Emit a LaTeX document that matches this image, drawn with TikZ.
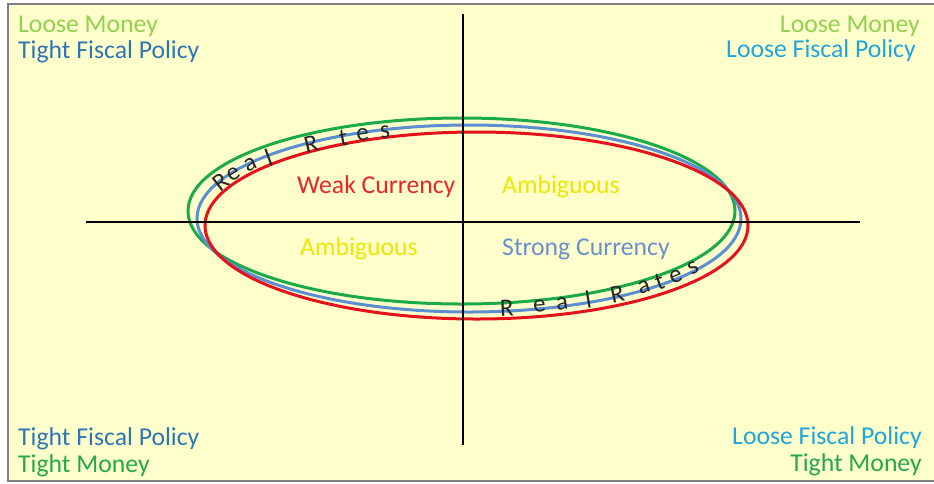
\documentclass[tikz,border=0pt]{standalone}
\usepackage{fontspec}
\setmainfont{Carlito}
\usepackage{xcolor}
\usepackage{tikz}
\usetikzlibrary{positioning}

\definecolor{paper}{HTML}{FFFFCC}
\definecolor{moneygreen}{HTML}{92D050}
\definecolor{tightblue}{HTML}{2E75B6}
\definecolor{looseblue}{HTML}{1FA5DE}
\definecolor{tightgreen}{HTML}{23A84A}
\definecolor{weakred}{HTML}{E8262B}
\definecolor{ambyellow}{HTML}{EEE600}
\definecolor{strongblue}{HTML}{6A8FCF}
\definecolor{ringgreen}{HTML}{1AAA4A}
\definecolor{ringblue}{HTML}{5B8FD2}
\definecolor{ringred}{HTML}{E5121B}

\begin{document}
\begin{tikzpicture}[x=1pt,y=-1pt,
    lbl/.style={font=\fontsize{25.7}{30}\selectfont, inner sep=0pt},
    rletter/.style={font=\fontsize{25}{28}\selectfont, inner sep=0pt, text=black!85},
    ring/.style={line width=3pt},
    axis/.style={line width=2.7pt}]
   \useasboundingbox (0,0) rectangle (934,483);
   \fill[paper] (8,4) rectangle (934,481);
   \draw[gray, line width=1.5pt] (934,4) -- (8,4) -- (8,481) -- (934,481);

   % the three rate rings
   \draw[ring, ringgreen] (461.5,211) ellipse [x radius=273.5, y radius=93];
   \draw[ring, ringblue] (469,218.5) ellipse [x radius=272, y radius=93.5];
   \draw[ring, ringred] (476.5,225.5) ellipse [x radius=271.5, y radius=93.5];

   % axes
   \coordinate (west) at (86,222);
   \coordinate (east) at (860,222);
   \coordinate (north) at (463,14);
   \coordinate (south) at (463,445);
   \draw[axis] (west) -- (east);
   \draw[axis] (north) -- (south);

   % quadrant labels
   \node[lbl, text=weakred, anchor=base west] (weak) at (297,193) {Weak Currency};
   \node[lbl, text=ambyellow, anchor=base west] (ambup) at (502,193) {Ambiguous};
   \node[lbl, text=ambyellow, anchor=base west] (amblow) at (300,255) {Ambiguous};
   \node[lbl, text=strongblue, anchor=base west] (strong) at (502,255) {Strong Currency};

   % corners
   \node[lbl, text=moneygreen, anchor=base west] (nwmoney) at (18,32) {Loose Money};
   \node[lbl, text=tightblue, anchor=base west] (nwfiscal) at (18,58) {Tight Fiscal Policy};
   \node[lbl, text=moneygreen, anchor=base east] (nemoney) at (920,32) {Loose Money};
   \node[lbl, text=looseblue, anchor=base east] (nefiscal) at (916,57) {Loose Fiscal Policy};
   \node[lbl, text=tightblue, anchor=base west] (swfiscal) at (18,445) {Tight Fiscal Policy};
   \node[lbl, text=tightgreen, anchor=base west] (swmoney) at (18,472) {Tight Money};
   \node[lbl, text=looseblue, anchor=base east] (sefiscal) at (922,444) {Loose Fiscal Policy};
   \node[lbl, text=tightgreen, anchor=base east] (semoney) at (922,471) {Tight Money};

   % letters along the blue ring
   \foreach \ch/\t [count=\i] in {R/156, e/150, a/143.5, l/137.5, R/125.5, t/117.5, e/113, s/108}
      \node[rletter, rotate={atan2(-93.5*cos(\t),272*sin(\t))}] (ru\i)
         at ({469+272*cos(\t)},{218.5-93.5*sin(\t)+2}) {\ch};
   \foreach \ch/\t [count=\i] in {R/-82, e/-75, a/-70, l/-64, R/-57, a/-50, t/-45.5, e/-40.5, s/-34.5}
      \node[rletter, rotate={atan2(93.5*cos(\t),-272*sin(\t))}] (rd\i)
         at ({469+272*cos(\t)},{218.5-93.5*sin(\t)-3}) {\ch};
\end{tikzpicture}
\end{document}
